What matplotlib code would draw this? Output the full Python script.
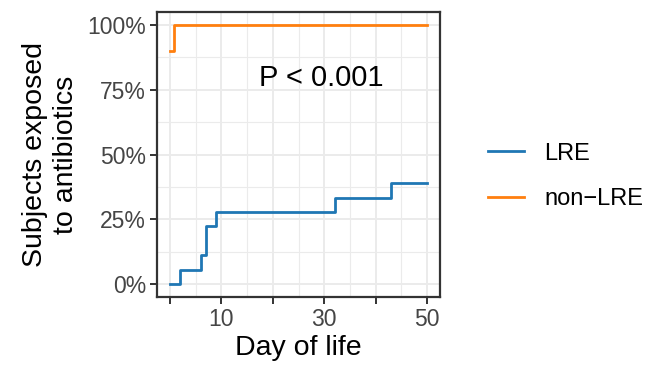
import matplotlib
matplotlib.use("Agg")
import matplotlib.pyplot as plt
import numpy as np

plt.rcParams['font.family'] = ['Liberation Sans', 'DejaVu Sans']

# Data (step functions: time of jump, level after jump, in %)
lre_days = [0, 2, 6, 7, 9, 32, 43, 50]
lre_vals = [0.0, 5.56, 11.11, 22.22, 27.78, 33.33, 38.89, 38.89]
nonlre_days = [0, 0.8, 50]
nonlre_vals = [90.0, 100.0, 100.0]
series_names = ["LRE", "non\u2212LRE"]
colors = ["#1f77b4", "#ff7f0e"]
x_ticks = [0, 10, 20, 30, 40, 50]
x_ticklabels = ["", "10", "", "30", "", "50"]
y_ticks = [0, 25, 50, 75, 100]
y_ticklabels = ["0%", "25%", "50%", "75%", "100%"]

fig = plt.figure(figsize=(6.48, 3.66), dpi=100)
ax = fig.add_axes([157/648, 69/366, 283/648, 285/366])

ax.step(lre_days, lre_vals, where="post", color=colors[0], lw=2, label=series_names[0], zorder=3)
ax.step(nonlre_days, nonlre_vals, where="post", color=colors[1], lw=2, label=series_names[1], zorder=3)

ax.set_xlim(-2.5, 52.5)
ax.set_ylim(-5, 105)
ax.set_xticks(x_ticks)
ax.set_xticklabels(x_ticklabels)
ax.set_yticks(y_ticks)
ax.set_yticklabels(y_ticklabels)
ax.set_xticks(np.arange(5, 50, 10), minor=True)
ax.set_yticks(np.arange(12.5, 100, 25), minor=True)
ax.tick_params(axis='x', which='minor', length=0)
ax.tick_params(axis='y', which='minor', length=0)
ax.grid(True, which='major', color='#EBEBEB', lw=1.4, zorder=0)
ax.grid(True, which='minor', color='#EBEBEB', lw=0.8, zorder=0)
ax.set_axisbelow(True)
ax.tick_params(axis='both', which='major', length=5, width=1.4, color='#333333',
               labelsize=16.5, labelcolor='#454545', pad=3)
for s in ax.spines.values():
    s.set_color('#333333')
    s.set_linewidth(1.6)

ax.set_xlabel("Day of life", fontsize=20.5, labelpad=3)
ax.set_ylabel("Subjects exposed\nto antibiotics", fontsize=20.5, labelpad=6, linespacing=1.22)

ax.text(29.5, 79.5, "P < 0.001", fontsize=21, ha='center', va='center')

leg = fig.legend(loc='center left', bbox_to_anchor=(488/648, 189.5/366), frameon=False,
                 fontsize=17, handlelength=1.52, labelspacing=1.0, handletextpad=0.85,
                 borderpad=0, borderaxespad=0)

fig.savefig("out.png", dpi=100)
